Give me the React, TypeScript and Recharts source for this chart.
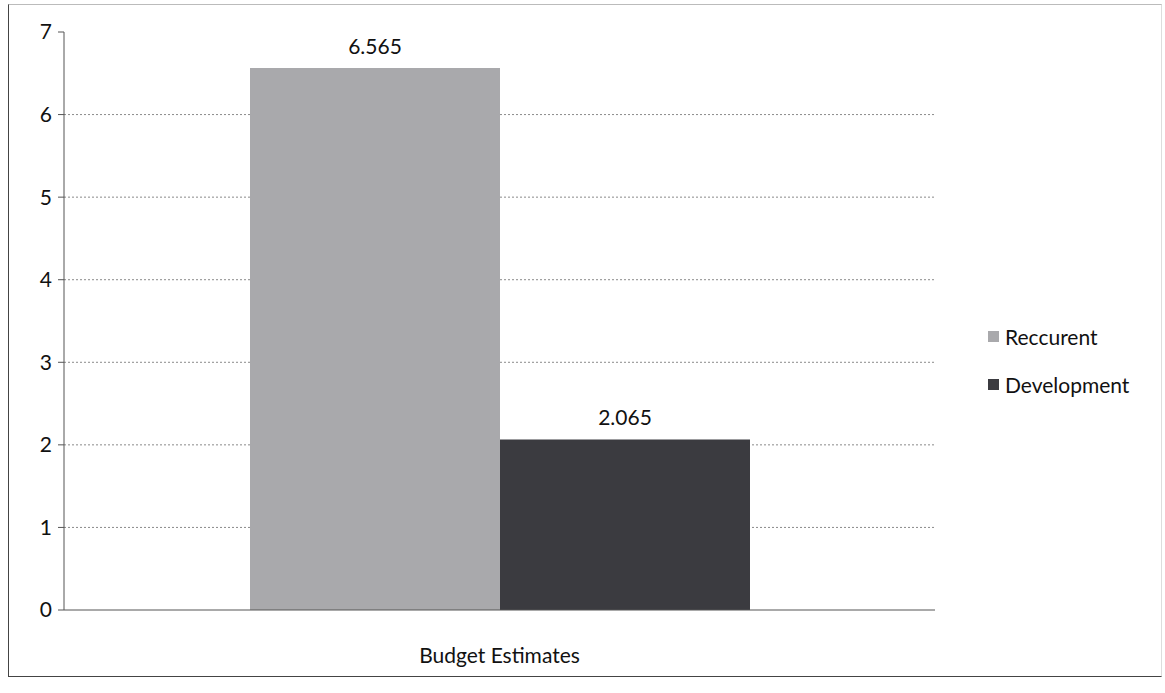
import { BarChart, Bar, XAxis, YAxis, CartesianGrid, LabelList } from 'recharts';

const categories = ['Budget Estimates'];
const reccurent = [6.565];
const development = [2.065];
const yTicks = [0, 1, 2, 3, 4, 5, 6, 7];

const series = [
  { key: 'Reccurent', values: reccurent, color: '#a9a9ac' },
  { key: 'Development', values: development, color: '#3b3b40' },
];

const data = categories.map((name, i) => ({
  name,
  Reccurent: reccurent[i],
  Development: development[i],
}));

const FONT = 'Lato, "Open Sans", sans-serif';

// legend drawn beside the chart so it doesn't eat into the plot area
function LegendBox() {
  return (
    <div
      style={{
        position: 'absolute',
        left: 988,
        top: 312,
        width: 175,
        fontFamily: FONT,
        fontSize: 21,
        color: '#111',
      }}
    >
      {series.map((s) => (
        <div key={s.key} style={{ display: 'flex', alignItems: 'center', height: 48 }}>
          <span
            style={{ width: 11, height: 11, background: s.color, display: 'inline-block', marginRight: 6 }}
          />
          <span>{s.key}</span>
        </div>
      ))}
    </div>
  );
}

export default function App() {
  return (
    <div style={{ position: 'absolute', left: 0, top: 0, width: 1165, height: 693, background: '#fff' }}>
      <div
        style={{
          position: 'absolute',
          left: 8,
          top: 4,
          width: 1152,
          height: 671,
          border: '1.5px solid #444',
          borderTopColor: '#bbb',
          borderRightColor: '#ddd',
        }}
      />
      <BarChart
        width={1165}
        height={693}
        data={data}
        margin={{ top: 32, right: 230, bottom: 33, left: 0 }}
        barGap={0}
        style={{ position: 'absolute', left: 0, top: 0 }}
      >
        <CartesianGrid
          vertical={false}
          horizontalValues={[1, 2, 3, 4, 5, 6]}
          stroke="#8a8a8a"
          strokeDasharray="2 2"
        />
        <XAxis
          dataKey="name"
          height={50}
          tickLine={false}
          axisLine={{ stroke: '#555' }}
          tick={{ fontFamily: FONT, fontSize: 21, fill: '#111', dy: 30 }}
        />
        <YAxis
          width={64}
          domain={[0, 7]}
          ticks={yTicks}
          interval={0}
          tickSize={6}
          axisLine={{ stroke: '#555' }}
          tickLine={{ stroke: '#555' }}
          tick={{ fontFamily: FONT, fontSize: 21, fill: '#111', dx: -4 }}
        />
        {series.map((s) => (
          <Bar key={s.key} dataKey={s.key} fill={s.color} barSize={250} isAnimationActive={false}>
            <LabelList
              dataKey={s.key}
              position="top"
              offset={14}
              style={{ fontFamily: FONT, fontSize: 21, fill: '#111' }}
            />
          </Bar>
        ))}
      </BarChart>
      <LegendBox />
    </div>
  );
}
